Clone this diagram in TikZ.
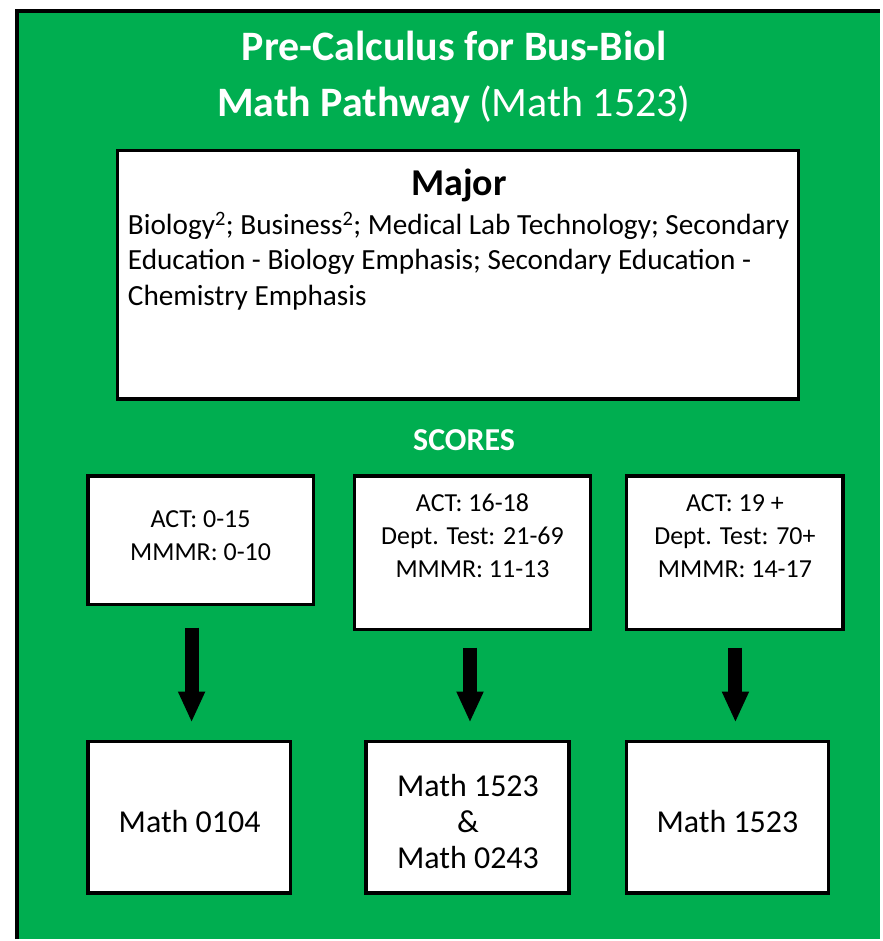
\documentclass[tikz,border=0pt]{standalone}
\usepackage{fontspec}
\setmainfont{Carlito}
\usetikzlibrary{arrows.meta}
\definecolor{pgreen}{RGB}{0,174,80}
\begin{document}
\begin{tikzpicture}[x=1bp,y=-1bp,
  frameline/.style={draw=black, line width=4bp},
  wbox/.style={draw=black, fill=white, line width=3.5bp, rectangle, inner sep=0pt},
  titletext/.style={text=white, align=center, inner sep=0pt, font=\fontsize{42bp}{56bp}\selectfont},
  scoretext/.style={text=black, align=center, inner sep=0pt, font=\fontsize{26bp}{33bp}\selectfont},
  mathtext/.style={text=black, align=center, inner sep=0pt, font=\fontsize{32bp}{36bp}\selectfont},
  fatarrow/.style={line width=14bp, black, -{Triangle[length=31bp,width=25bp]}}]
\fill[white] (0,0) rectangle (882,941);
\fill[pgreen] (17,11) rectangle (882,941);
\coordinate (fbl) at (17,941);
\coordinate (ftl) at (17,11);
\coordinate (ftr) at (882,11);
\draw[frameline] (fbl) -- (ftl) -- (ftr);
% title
\node[titletext] (title) at (455,77) {\textbf{Pre-Calculus for Bus-Biol}\\\textbf{Math Pathway} (Math 1523)};
% major box
\node[wbox, minimum width=682bp, minimum height=249bp] (major) at (459,275.5) {};
\node[inner sep=0pt, font=\fontsize{38bp}{42bp}\selectfont\bfseries] (majortitle) at (460,186) {Major};
\node[inner sep=0pt, anchor=north west, align=left, font=\fontsize{29.3bp}{36bp}\selectfont] (majortext) at (128,212)
  {Biology\textsuperscript{2}; Business\textsuperscript{2}; Medical Lab Technology; Secondary\\
   Education - Biology Emphasis; Secondary Education -\\
   Chemistry Emphasis};
% scores
\node[text=white, inner sep=0pt, font=\fontsize{32bp}{36bp}\selectfont\bfseries] (scores) at (465,441) {SCORES};
\node[wbox, minimum width=226bp, minimum height=129bp] (s1) at (201,541.5) {};
\node[wbox, minimum width=237bp, minimum height=154bp] (s2) at (473.5,554) {};
\node[wbox, minimum width=217bp, minimum height=154bp] (s3) at (736.5,554) {};
\node[scoretext] (s1t) at (201,537) {ACT: 0-15\\MMMR: 0-10};
\node[scoretext] (s2t) at (473.5,537) {ACT: 16-18\\Dept. Test: 21-69\\MMMR: 11-13};
\node[scoretext] (s3t) at (736.5,537) {ACT: 19 +\\Dept. Test: 70+\\MMMR: 14-17};
% results
\node[wbox, minimum width=203bp, minimum height=152bp] (b1) at (189.5,819) {};
\node[wbox, minimum width=203bp, minimum height=152bp] (b2) at (468.5,819) {};
\node[wbox, minimum width=202bp, minimum height=152bp] (b3) at (729,819) {};
\node[mathtext] (b1t) at (190,823) {Math 0104};
\node[mathtext] (b2t) at (469,823) {Math 1523\\\&\\Math 0243};
\node[mathtext] (b3t) at (729,823) {Math 1523};
% arrows
\coordinate (a1s) at (192,629);
\coordinate (a1e) at (192,724);
\coordinate (a2s) at (471,649);
\coordinate (a2e) at (471,724);
\coordinate (a3s) at (737,649);
\coordinate (a3e) at (737,724);
\draw[fatarrow] (a1s) -- (a1e);
\draw[fatarrow] (a2s) -- (a2e);
\draw[fatarrow] (a3s) -- (a3e);
\useasboundingbox (0,0) rectangle (882,941);
\end{tikzpicture}
\end{document}
